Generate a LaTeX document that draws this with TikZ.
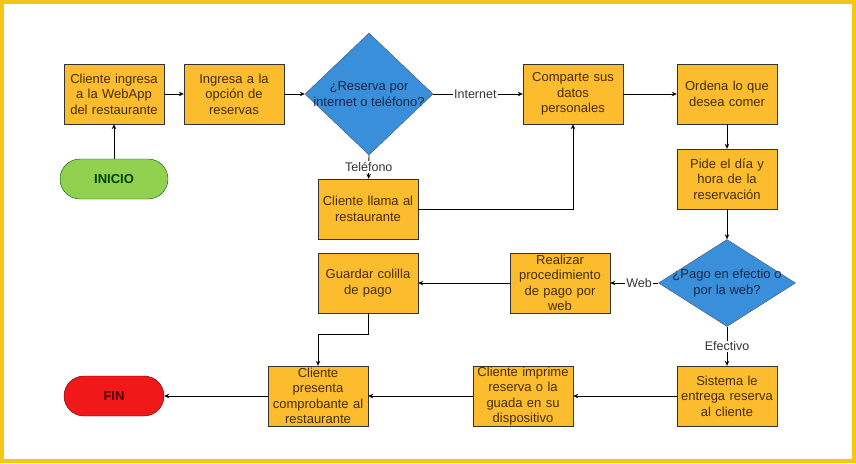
\documentclass[tikz,border=0pt]{standalone}
\usepackage{fontspec}
\setmainfont{Liberation Sans}
\usepackage{xcolor}
\usepackage{tikz}
\usetikzlibrary{arrows.meta,positioning,calc,shapes.geometric}

\definecolor{marco}{RGB}{245,197,24}
\definecolor{caja}{RGB}{251,188,45}
\definecolor{cajatxt}{RGB}{70,45,10}
\definecolor{rombo}{RGB}{58,143,219}
\definecolor{rombotxt}{RGB}{22,40,75}
\definecolor{verde}{RGB}{146,208,80}
\definecolor{rojo}{RGB}{240,24,24}

\begin{document}
\begin{tikzpicture}[x=1pt,y=-1pt,
  paso/.style={rectangle,draw=black!80,fill=caja,text=cajatxt,text width=100pt,
    minimum height=60pt,inner sep=0pt,align=center,font=\fontsize{13}{15.5}\selectfont},
  rombo/.style={diamond,draw=rombotxt!80,fill=rombo,inner sep=0pt},
  rombotexto/.style={text=rombotxt,align=center,inner sep=0pt,font=\fontsize{13}{15.5}\selectfont},
  terminal/.style={rectangle,rounded corners=20pt,minimum height=40pt,inner sep=0pt,
    font=\fontsize{13}{15.5}\selectfont\bfseries},
  flecha/.style={-{Stealth[length=5pt,width=4.5pt]},line width=0.9pt},
  etiq/.style={fill=white,inner sep=1pt,text=black!80,font=\fontsize{12.5}{14}\selectfont}]
  \useasboundingbox (0,0) rectangle (856,463);
  \draw[marco,line width=4pt] (2,2) rectangle (854,461);

  % fila superior
  \node[terminal,draw=green!35!black,fill=verde,text=green!25!black,minimum width=108pt] (inicio) at (114,179) {INICIO};
  \node[paso] (webapp) at (114,94) {Cliente ingresa\\a la WebApp\\del restaurante};
  \node[paso] (opcion) at (234,94) {Ingresa a la\\opción de\\reservas};
  \node[rombo,minimum width=128pt,minimum height=122pt] (medio) at (369,94) {};
  \node[rombotexto] (mediotxt) at (medio) {¿Reserva por\\internet o teléfono?};
  \node[paso] (llama) at (368,209) {Cliente llama al\\restaurante};
  \node[paso] (datos) at (573,94) {Comparte sus\\datos\\personales};
  \node[paso] (ordena) at (727,94) {Ordena lo que\\desea comer};
  \node[paso] (pide) at (727,179) {Pide el día y\\hora de la\\reservación};

  % pago
  \node[rombo,minimum width=137pt,minimum height=87pt] (pago) at (727,283) {};
  \node[rombotexto] (pagotxt) at (pago) {¿Pago en efectio o\\por la web?};
  \node[paso] (web) at (560,283) {Realizar\\procedimiento\\de pago por\\web};
  \node[paso] (colilla) at (368,283) {Guardar colilla\\de pago};
  \node[paso] (sistema) at (727,396) {Sistema le\\entrega reserva\\al cliente};
  \node[paso] (imprime) at (523,396) {Cliente imprime\\reserva o la\\guada en su\\dispositivo};
  \node[paso] (presenta) at (318,396) {Cliente\\presenta\\comprobante al\\restaurante};
  \node[terminal,draw=red!40!black,fill=rojo,text=red!30!black,minimum width=100pt] (fin) at (114,396) {FIN};

  \draw[flecha] (inicio) -- (webapp);
  \draw[flecha] (webapp) -- (opcion);
  \draw[flecha] (opcion) -- (medio.west);
  \draw[flecha] (medio.east) -- node[etiq,pos=0.47] {Internet} (datos);
  \draw[flecha] (medio.south) -- node[etiq] {Teléfono} (llama);
  \draw[flecha] (llama.east) -| (datos.south);
  \draw[flecha] (datos) -- (ordena);
  \draw[flecha] (ordena) -- (pide);
  \draw[flecha] (pide) -- (pago.north);
  \draw[flecha] (pago.west) -- node[etiq,pos=0.4] {Web} (web);
  \draw[flecha] (web) -- (colilla);
  \draw[flecha] (colilla.south) -- ++(0,21) -| (presenta.north);
  \draw[flecha] (pago.south) -- node[etiq] {Efectivo} (sistema);
  \draw[flecha] (sistema) -- (imprime);
  \draw[flecha] (imprime) -- (presenta);
  \draw[flecha] (presenta) -- (fin);
\end{tikzpicture}
\end{document}
